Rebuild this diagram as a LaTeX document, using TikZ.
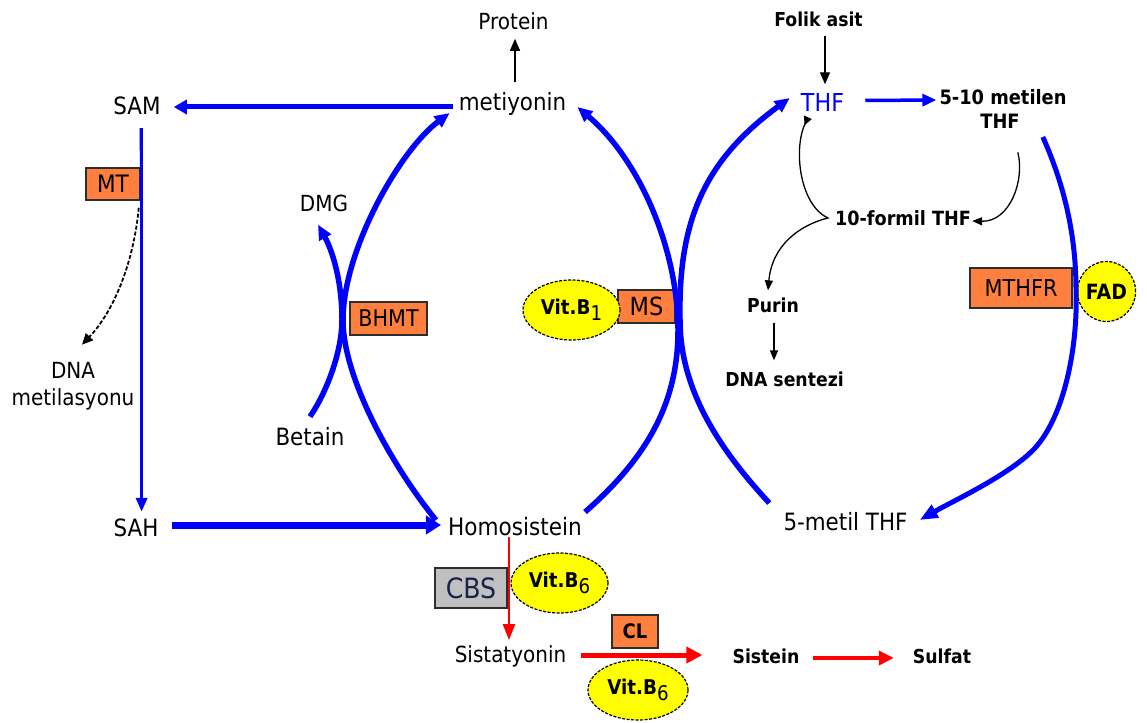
\documentclass[tikz,border=0pt]{standalone}
\usepackage{fontspec}
\setmainfont{DejaVu Sans}[FakeStretch=0.9]
\usetikzlibrary{arrows.meta,shapes.geometric,calc}

\definecolor{pathblue}{RGB}{0,0,255}
\definecolor{pathred}{RGB}{255,0,0}
\definecolor{enzorange}{RGB}{255,127,63}
\definecolor{vityellow}{RGB}{255,255,0}
\definecolor{cbsgray}{RGB}{192,192,192}
\definecolor{cbstext}{RGB}{25,35,75}
\definecolor{boxedge}{RGB}{45,45,45}

\newcommand{\setfs}[1]{\fontsize{#1}{#1}\selectfont}
\newcommand{\vitB}[1]{Vit.B\raisebox{-6pt}{\mdseries #1}}

\tikzset{
  big/.style={inner sep=0pt, font=\setfs{23.8}},
  mid/.style={inner sep=0pt, font=\setfs{22.2}},
  bld/.style={inner sep=0pt, font=\setfs{19.2}\bfseries},
  enzyme/.style={draw=boxedge, line width=1.5pt, fill=enzorange, inner sep=0pt, font=\setfs{23}},
  cofactor/.style={ellipse, draw=black, line width=1.2pt, dash pattern=on 3pt off 1.5pt,
    fill=vityellow, inner sep=0pt, font=\setfs{20.3}\bfseries},
  blueflow/.style={draw=pathblue, line width=5.5pt, -{Triangle[length=15pt,width=13pt]}},
  redflow/.style={draw=pathred, line width=4pt, -{Triangle[length=15pt,width=14pt]}},
  blackflow/.style={draw=black, line width=1.3pt, -{Triangle[length=10pt,width=8pt]}},
}

\begin{document}
\begin{tikzpicture}[x=1pt,y=-1pt]
\fill[white] (0,0) rectangle (1147,722);
\useasboundingbox (0,0) rectangle (1147,722);

% metabolites
\node[big] (SAM) at (137,106) {SAM};
\node[big] (meti) at (512.5,104) {metiyonin};
\node[mid] (protein) at (513.5,21) {Protein};
\node[bld] (folik) at (818.5,19) {Folik asit};
\node[big, text=pathblue, font=\setfs{24.7}] (THF) at (822.5,102.5) {THF};
\node[bld, font=\setfs{19.8}\bfseries] (metilen) at (1003,97) {5-10 metilen};
\node[bld, font=\setfs{19.8}\bfseries] (metilenTHF) at (1000,121.5) {THF};
\node[mid] (DMG) at (324,203) {DMG};
\node[bld, font=\setfs{19.6}\bfseries] (formil) at (903,218) {10-formil THF};
\node[bld] (purin) at (773,305) {Purin};
\node[bld] (dnasent) at (784.5,379) {DNA sentezi};
\node[mid, align=center, font=\fontsize{22.2}{27.5}\selectfont] (dnamet) at (73,386) {DNA\\metilasyonu};
\node[big] (betain) at (310,437) {Betain};
\node[big] (SAH) at (136,528) {SAH};
\node[big, font=\setfs{24}] (homo) at (515,527) {Homosistein};
\node[big] (metilTHF) at (845.5,522) {5-metil THF};
\node[mid] (sistat) at (510.5,656.5) {Sistatyonin};
\node[bld] (sistein) at (766,656) {Sistein};
\node[bld] (sulfat) at (942,656) {Sulfat};

% enzymes
\node[enzyme, minimum width=54pt, minimum height=32pt, font=\setfs{24}] (MT) at (113,184) {MT};
\node[enzyme, minimum width=77pt, minimum height=33pt] (BHMT) at (388.5,318.5) {BHMT};
\node[enzyme, minimum width=57pt, minimum height=33pt, font=\setfs{25}] (MS) at (646.5,306.5) {MS};
\node[enzyme, minimum width=102pt, minimum height=40pt, font=\setfs{23.2}] (MTHFR) at (1021,288) {MTHFR};
\node[enzyme, fill=cbsgray, text=cbstext, minimum width=72pt, minimum height=40pt, font=\setfs{28}] (CBS) at (471,588) {CBS};
\node[enzyme, minimum width=46pt, minimum height=33pt, font=\setfs{20}\bfseries] (CL) at (635,631.5) {CL};

% cofactors
\node[cofactor, minimum width=97pt, minimum height=60pt] (B1) at (571.5,310) {\vitB{1}};
\node[cofactor, minimum width=57pt, minimum height=60pt, font=\setfs{21}\bfseries] (FAD) at (1106.5,291.5) {FAD};
\node[cofactor, minimum width=97pt, minimum height=60pt] (B6a) at (559.5,583) {\vitB{6}};
\node[cofactor, minimum width=100pt, minimum height=60pt] (B6b) at (638,690) {\vitB{6}};

% methionine cycle
\draw[draw=pathblue, line width=5pt, -{Triangle[length=13pt,width=14pt]}]
  ([shift={(-6,3)}]meti.west) -- ([shift={(13,1)}]SAM.east);
\draw[black, line width=1pt] ([shift={(3,13)}]SAM.south) -- ([shift={(0,11)}]MT.east);
\draw[draw=pathblue, line width=3.5pt, -{Triangle[length=14pt,width=11pt]}]
  ([shift={(4.6,13)}]SAM.south) -- ([shift={(5.6,-7)}]SAH.north);
\draw[draw=pathblue, line width=7pt, -{Triangle[length=15pt,width=18pt]}]
  ([shift={(13,-3)}]SAH.east) -- ([shift={(-7,-2)}]homo.west);
\draw[blackflow, line width=1.8pt, dash pattern=on 4pt off 2pt, -{Triangle[length=11pt,width=10pt]}]
  ([shift={(-2,7)}]MT.south east) .. controls (134,260) and (115,310) .. ([shift={(9,-17)}]dnamet.north);
\draw[blackflow, -{Triangle[length=12pt,width=10pt]}]
  ([shift={(2.5,-10)}]meti.north) -- ([shift={(1.5,9)}]protein.south);

% betaine route
\coordinate (bhmtX) at (343,320);
\draw[blueflow] ([shift={(-12,-7)}]homo.west) .. controls (395,470) and (343,380) .. (bhmtX)
  .. controls (343,250) and (400,150) .. ([shift={(-9,9)}]meti.west);
\draw[blueflow] ([shift={(0,-11)}]betain.north) .. controls (328,390) and (342,350) .. (342,320)
  .. controls (342,280) and (332,250) .. ([shift={(-6,13)}]DMG.south);

% methionine synthase route
\coordinate (msX) at (678,330);
\coordinate (thfX) at (680,320);
\draw[blueflow] ([shift={(3,-15)}]homo.east) .. controls (650,455) and (678,400) .. (msX)
  .. controls (678,250) and (640,160) .. ([shift={(11,3)}]meti.east);
\draw[blueflow] ([shift={(-14,-19)}]metilTHF.west) .. controls (720,450) and (680,390) .. (thfX)
  .. controls (678,220) and (705,160) .. ([shift={(-11,-4.5)}]THF.west);

% folate cycle
\draw[blackflow, -{Triangle[length=12pt,width=10pt]}]
  ([shift={(6.5,9)}]folik.south) -- ([shift={(2.5,-9)}]THF.north);
\draw[draw=pathblue, line width=3.5pt, -{Triangle[length=14pt,width=12pt]}]
  ([shift={(21,-2)}]THF.east) -- ([shift={(-3,3)}]metilen.west);
\draw[draw=pathblue, line width=5pt, -{Triangle[length=18pt,width=14pt]}]
  ([shift={(23,15.5)}]metilenTHF.east) .. controls (1062,180) and (1076,230) .. (1076,290)
  .. controls (1078,345) and (1065,415) .. (1035,448)
  .. controls (1011,474) and (955,500) .. ([shift={(12,-2)}]metilTHF.east);
\draw[blackflow, {Triangle[reversed,length=9pt,width=8pt]}-{Triangle[length=10pt,width=8pt]}]
  ([shift={(-14.5,5.6)}]THF.south) .. controls (793,150) and (800,205) .. ([shift={(-7,0)}]formil.west)
  .. controls (800,225) and (772,245) .. ([shift={(-5,-7)}]purin.north);
\draw[blackflow] ([shift={(-2,23.5)}]metilenTHF.south east) .. controls (1025,180) and (1010,222) ..
  ([shift={(1,3)}]formil.east);
\draw[blackflow] ([shift={(1,10)}]purin.south) -- ([shift={(-10.5,-11)}]dnasent.north);

% transsulfuration
\draw[redflow, line width=2.5pt, -{Triangle[length=16pt,width=12pt]}]
  ([shift={(-6,1)}]homo.south) -- ([shift={(-1.5,-5.5)}]sistat.north);
\draw[redflow, line width=5pt, -{Triangle[length=16pt,width=16pt]}]
  ([shift={(15,-1.5)}]sistat.east) -- ([shift={(-30,-1)}]sistein.west);
\draw[redflow, line width=3.5pt]
  ([shift={(13,2)}]sistein.east) -- ([shift={(-19,2)}]sulfat.west);
\end{tikzpicture}
\end{document}
